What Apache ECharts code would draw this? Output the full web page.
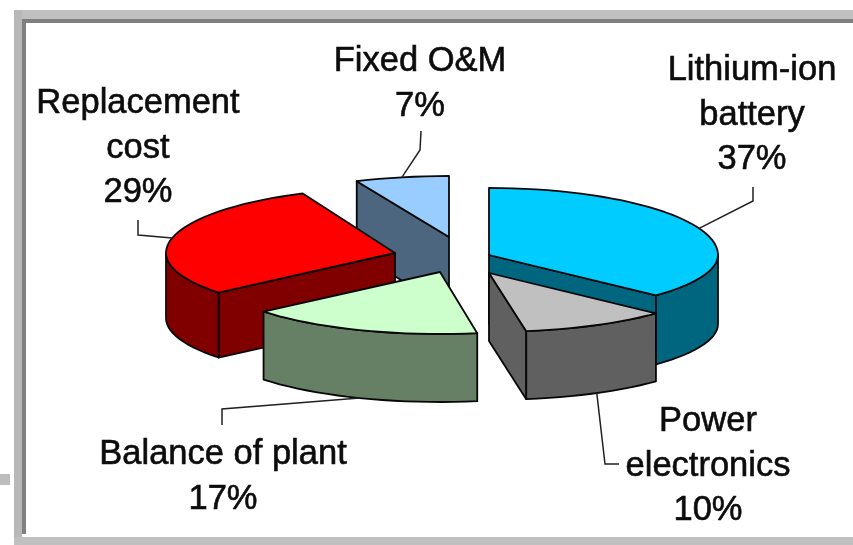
<!DOCTYPE html>
<html>
<head>
<meta charset="utf-8">
<style>html,body{margin:0;padding:0;background:#fff}#c{width:853px;height:545px;filter:blur(0.45px)}</style>
<script src="https://cdn.jsdelivr.net/npm/echarts@6/dist/echarts.min.js"></script>
</head>
<body>
<div id="c"></div>
<script>
// Data
const categories = ['Lithium-ion\nbattery', 'Power\nelectronics', 'Balance of plant', 'Replacement\ncost', 'Fixed O&M'];
const shares = [37, 10.4, 16.6, 29.4, 6.6];

// Styles
const topColors = ['#00CCFF', '#C0C0C0', '#CCFFCC', '#FF0000', '#99CCFF'];
const sideColors = ['#006680', '#606060', '#668066', '#800000', '#4D6680'];

// Layout: apex x, apex y, rx, back ry, front ry, depth for each exploded slice
const sliceLayout = [
  [489, 255, 229, 67, 59, 69],
  [489, 273, 229, 62, 59, 68],
  [440, 272, 229, 62, 62, 68],
  [395, 253, 229, 65, 62, 65],
  [449, 237, 229, 61, 61, 72]
];
const paintRank = [2, 4, 3, 1, 0];
// Label centre x and block centre y; leader elbow points
const labelPos = [[752, 115], [708, 466], [223, 477], [138, 148], [420, 84]];
const leaderElbows = [
  [[753, 201], [753, 187]],
  [[605, 464], [619, 464]],
  [[222, 409], [222, 425]],
  [[138, 235], [138, 220]],
  [[420, 150], [421, 131]]
];
const lineHeight = 44.5;
const fontSize = 34.5;
const STROKE = '#080808';

const total = shares.reduce((a, b) => a + b, 0);
const rad = d => d * Math.PI / 180;

function pointAt(L, deg, dz) {
  const c = Math.cos(rad(deg)), s = Math.sin(rad(deg));
  const ry = c >= 0 ? L[3] : L[4];
  return [L[0] + L[2] * s, L[1] - ry * c + (dz || 0)];
}
function arc(L, a, b, dz) {
  const pts = [], n = Math.max(2, Math.ceil(Math.abs(b - a) / 3));
  for (let i = 0; i <= n; i++) pts.push(pointAt(L, a + (b - a) * i / n, dz));
  return pts;
}
function poly(points, fill, z2) {
  return { type: 'polygon', z2, silent: true, shape: { points },
    style: { fill, stroke: STROKE, lineWidth: 1.8, lineJoin: 'round' } };
}

function renderItem(params, api) {
  const i = params.dataIndex, L = sliceLayout[i];
  let before = 0;
  for (let k = 0; k < i; k++) before += api.value(0, k);
  const a0 = before / total * 360, a1 = (before + api.value(0)) / total * 360;
  const base = paintRank[i] * 10, d = L[5], side = sideColors[i];
  const apex = [L[0], L[1]], apexB = [L[0], L[1] + d];
  const children = [];
  // inner radial faces that face the viewer
  if (Math.sin(rad(a0)) < -0.01) {
    const e = pointAt(L, a0);
    children.push(poly([apex, e, [e[0], e[1] + d], apexB], side, base + 1));
  }
  if (Math.sin(rad(a1)) > 0.01) {
    const e = pointAt(L, a1);
    children.push(poly([apex, e, [e[0], e[1] + d], apexB], side, base + 1));
  }
  // outer wall on the front half
  const w0 = Math.max(a0, 90), w1 = Math.min(a1, 270);
  if (w1 > w0) {
    children.push(poly(arc(L, w0, w1, 0).concat(arc(L, w1, w0, d)), side, base + 2));
  }
  // top face
  children.push(poly([apex].concat(arc(L, a0, a1, 0)), topColors[i], base + 3));
  // leader line, anchored on the slice rim at its mid-angle
  const mid = (a0 + a1) / 2;
  const isFront = Math.cos(rad(mid)) < 0;
  const anchor = pointAt(L, mid, isFront ? d : 0);
  children.push({ type: 'polyline', z2: 60, silent: true,
    shape: { points: [anchor].concat(leaderElbows[i]) },
    style: { fill: null, stroke: '#222', lineWidth: 1.5 } });
  // label
  children.push({ type: 'text', z2: 70, silent: true,
    style: {
      x: labelPos[i][0], y: labelPos[i][1],
      text: categories[i] + '\n' + Math.round(api.value(0)) + '%',
      align: 'center', verticalAlign: 'middle',
      font: fontSize + 'px "Liberation Sans", Arial, sans-serif',
      lineHeight: lineHeight, fill: '#0c0c0c', stroke: '#0c0c0c', lineWidth: 0.6
    } });
  return { type: 'group', children };
}

const frame = [
  [14, 10, 839, 9, '#C0C0C0'], [22, 19, 831, 4, '#808080'],
  [14, 10, 8, 535, '#B8B8B8'], [22, 19, 4, 515, '#808080'],
  [14, 537, 839, 8, '#C0C0C0'], [0, 474, 10, 11, '#BDBDBD']
];

const chart = echarts.init(document.getElementById('c'), null, { renderer: 'canvas' });
chart.setOption({
  animation: false,
  backgroundColor: '#fff',
  graphic: frame.map(r => ({ type: 'rect', silent: true, z: 0,
    shape: { x: r[0], y: r[1], width: r[2], height: r[3] }, style: { fill: r[4] } })),
  series: [{
    type: 'custom', coordinateSystem: 'none', silent: true, clip: false,
    renderItem, data: shares.map((v, i) => ({ name: categories[i], value: [v] })),
    encode: { value: 0 }
  }]
});
</script>
</body>
</html>
